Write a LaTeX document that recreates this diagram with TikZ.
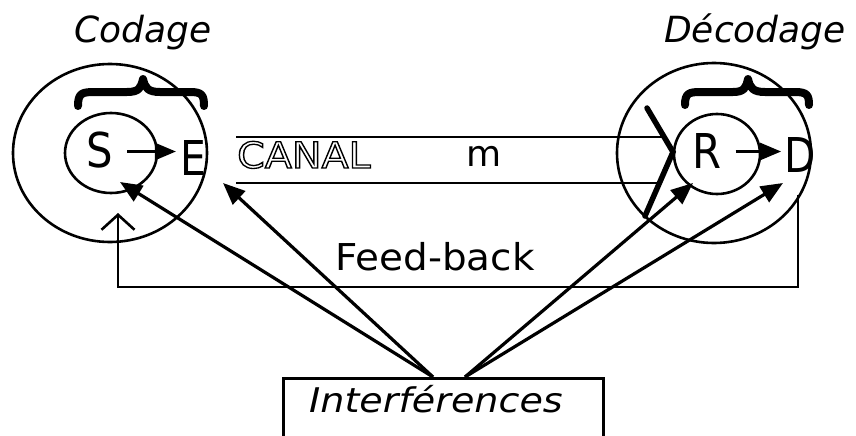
\documentclass[tikz,border=0pt]{standalone}
\usepackage{fontspec}
\setmainfont{DejaVu Sans}
\usetikzlibrary{arrows.meta,shapes.geometric}
\newcommand{\outlinetext}[1]{\special{pdf:literal 1 Tr 1.3 w}#1\special{pdf:literal 0 Tr}}
\tikzset{
  ln/.style={line width=2.6pt},
  ringL/.style={draw, ellipse, line width=2.6pt, inner sep=0pt},
  arr/.style={line width=3.2pt, -{Triangle[length=22pt,width=18pt]}},
  sarr/.style={line width=2.6pt, -{Triangle[length=21pt,width=17pt]}},
  brc/.style={line width=8pt, line cap=round, line join=round},
  txt/.style={inner sep=0pt, anchor=base},
  big/.style={txt, font=\fontsize{48}{50}\selectfont},
  ttl/.style={txt, font=\fontsize{36}{40}\selectfont\itshape},
}
\begin{document}
\begin{tikzpicture}[x=1pt,y=-1pt]
\useasboundingbox (0,0) rectangle (856,436);
\clip (0,0) rectangle (856,436);
\fill[white] (0,0) rectangle (856,436);

% titles
\node[ttl] (cod) at (143,42) {Codage};
\node[ttl] (dec) at (755,42) {Décodage};

% circles
\node[ringL, minimum width=194pt, minimum height=178pt] (outL) at (110,153) {};
\node[ringL, minimum width=92pt, minimum height=80pt] (inL) at (111,153) {};
\node[ringL, minimum width=194pt, minimum height=180pt] (outR) at (714,153) {};
\node[ringL, minimum width=86pt, minimum height=80pt] (inR) at (717,154) {};

% braces
\draw[brc] (78,106) .. controls (78,93) and (82,92) .. (95,92) -- (127,92)
  .. controls (139,92) and (141,88) .. (143,79) .. controls (145,88) and (148,92) .. (160,92)
  -- (190,92) .. controls (202,92) and (204,95) .. (204,106);
\draw[brc] (685,105) .. controls (685,93) and (689,92) .. (701,92) -- (733,92)
  .. controls (744,92) and (746,88) .. (748,79) .. controls (750,88) and (753,92) .. (765,92)
  -- (795,92) .. controls (807,92) and (809,95) .. (809,105);

% letters
\node[big] (S) at (100,167) {\scalebox{0.87}[1]{S}};
\node[big] (E) at (193,175) {\scalebox{0.85}[1]{E}};
\node[big] (R) at (707,168) {\scalebox{0.87}[1]{R}};
\node[big] (D) at (800,172) {\scalebox{0.85}[1]{D}};
\draw[sarr] ([xshift=14pt,yshift=-2pt]S.east) -- ([yshift=-2pt,xshift=-4pt]S.east -| E.west);
\draw[sarr] ([xshift=14pt,yshift=-1pt]R.east) -- ([yshift=-1pt,xshift=-3pt]R.east -| D.west);

% canal
\coordinate (cTL) at (236,137);
\coordinate (cBL) at (236,183);
\coordinate (vTop) at (647,108);
\coordinate (vMid) at (673,152);
\coordinate (vBot) at (645,216);
\draw[ln] (cTL) -- (663,137);
\draw[ln] (cBL) -- (661,183);
\draw[line width=5.5pt, line cap=round, line join=miter] (vTop) -- (vMid) -- (vBot);
\node[txt, anchor=base west, font=\fontsize{36}{40}\selectfont] (canal) at (237,168)
  {\scalebox{1.1}[1]{\outlinetext{CANAL}}};
\node[txt, font=\fontsize{36}{40}\selectfont] (m) at (484,166) {m};

% feed-back
\coordinate (fbR) at (798,195);
\coordinate (fbTip) at (118,213);
\draw[ln, -{Straight Barb[length=15pt,width=33pt,line width=2.6pt]}]
  (fbR) -- (fbR |- 0,287) -| (fbTip);
\node[txt, font=\fontsize{37}{40}\selectfont] (fb) at (435,270) {\scalebox{1.05}[1]{Feed-back}};

% interferences
\node[draw, line width=2.6pt, anchor=north west, minimum width=320pt, minimum height=90pt, inner sep=0pt] (box) at (282,377) {};
\node[txt, font=\fontsize{34}{36}\selectfont\itshape] (intf) at (436,412) {\scalebox{1.12}[1]{Interférences}};

\coordinate (tS) at (120,182);
\coordinate (tE) at (223,183);
\coordinate (tR) at (693,183);
\coordinate (tD) at (783,183);
\coordinate (oL) at ([xshift=151pt]box.north west);
\coordinate (oR) at ([xshift=183pt]box.north west);
\draw[arr] (oL) -- (tS);
\draw[arr] (oL) -- (tE);
\draw[arr] (oR) -- (tR);
\draw[arr] (oR) -- (tD);
\end{tikzpicture}
\end{document}
